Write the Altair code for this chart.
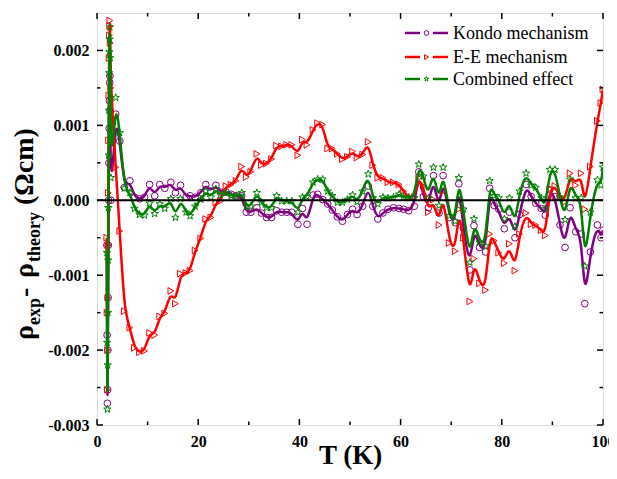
import altair as alt
import pandas as pd

# ---------------- data (resistivity residuals in units of 1e-3 Ohm cm) ----------------
T = [1.95, 2.0, 2.05, 2.1, 2.15, 2.2, 2.25, 2.3, 2.35, 2.4, 2.45, 2.5, 2.55, 2.6, 2.75,
     3.7, 4.5, 5.4, 6.5, 7.4, 8.4, 9.4, 10.4, 11.4, 12.4, 13.4, 14.6, 15.5, 16.5, 17.6, 18.4, 19.4,
     20.5, 21.5, 22.5, 23.5, 24.4, 25.5, 26.5, 27.5, 28.6, 29.5, 30.4, 31.6, 32.5, 33.5, 34.5, 35.5, 36.5, 37.5, 38.5, 39.7,
     40.6, 41.5, 42.7, 43.6, 44.6, 45.6, 46.5, 47.5, 48.5, 49.5, 50.5, 51.4, 52.5, 53.6, 54.5, 55.5, 56.5, 57.5, 58.6, 59.7,
     60.6, 61.6, 62.7, 63.6, 64.5, 65.5, 66.5, 67.6, 68.4, 69.6, 70.8, 71.5, 72.4, 73.7, 74.5, 75.6, 76.8, 77.6, 78.5, 79.4,
     80.5, 81.5, 82.6, 83.5, 84.8, 85.8, 86.7, 87.8, 88.6, 89.5, 90.5, 91.5, 92.5, 93.5, 94.6, 95.7, 96.4, 97.5, 98.9, 99.6, 100.0]

kondo = [-0.6, -1.8, -2.71, -2.53, -2.0, -1.3, -0.6, 0.0, 0.5, 0.96, 1.33, 1.57, 1.66, 1.2, 0.0,
         1.15, 0.79, 0.17, 0.26, 0.04, 0.02, 0.04, 0.21, 0.06, 0.21, 0.16, 0.24, 0.10, 0.20, 0.04, 0.06, 0.04,
         0.10, 0.21, 0.12, 0.20, 0.11, 0.11, 0.08, 0.06, 0.06, -0.16, -0.16, -0.10, -0.17, -0.23, -0.23, -0.14, -0.16, -0.16, -0.16, -0.32,
         -0.11, -0.32, 0.07, 0.08, 0.01, -0.05, -0.13, -0.22, -0.28, -0.19, -0.12, -0.19, -0.08, 0.19, -0.08, -0.25, -0.17, -0.12, -0.10, -0.11,
         -0.12, -0.14, -0.08, 0.38, 0.05, -0.10, 0.33, -0.17, 0.33, -0.23, -0.30, 0.22, -0.37, -0.93, -0.34, -0.63, -0.69, 0.16, -0.07, -0.12,
         -0.38, -0.16, -0.50, -0.19, 0.21, 0.05, -0.04, -0.11, -0.20, 0.14, 0.05, -0.33, -0.63, -0.10, -0.42, -0.45, -1.38, -0.69, -0.33, -0.50, -0.40]

ee = [-0.5, -1.5, -2.53, -2.0, -1.3, -0.6, 0.1, 0.8, 1.4, 1.9, 2.2, 2.33, 2.40, 2.1, 1.5,
      0.44, -0.41, -1.48, -1.70, -1.97, -2.03, -2.01, -1.77, -1.80, -1.55, -1.51, -1.21, -1.38, -0.98, -0.97, -0.94, -0.67,
      -0.51, -0.25, -0.23, -0.03, -0.01, 0.19, 0.21, 0.26, 0.45, 0.31, 0.38, 0.62, 0.47, 0.49, 0.55, 0.73, 0.72, 0.74, 0.74, 0.60,
      0.81, 0.74, 0.94, 1.03, 1.01, 0.69, 0.69, 0.62, 0.55, 0.58, 0.65, 0.57, 0.61, 0.78, 0.47, 0.30, 0.30, 0.24, 0.24, 0.21,
      0.12, 0.04, 0.04, 0.30, 0.19, -0.16, 0.01, -0.33, 0.12, -0.57, -0.68, -0.12, -0.50, -1.35, -0.78, -1.11, -1.20, -0.45, -0.54, -0.70,
      -0.84, -0.58, -0.94, -0.45, -0.17, -0.32, -0.33, -0.40, -0.47, 0.15, 0.19, 0.05, -0.02, 0.36, 0.20, 0.36, -0.12, 0.45, 1.06, 1.30, 1.48]

combined = [-0.7, -1.9, -2.79, -2.2, -1.5, -0.8, -0.1, 0.6, 1.2, 1.7, 1.98, 2.15, 2.31, 1.9, 0.3,
            1.37, 0.90, 0.16, 0.10, -0.11, -0.19, -0.20, -0.04, -0.18, -0.05, -0.11, 0.02, -0.23, 0.02, -0.16, -0.21, -0.08,
            0.01, 0.12, 0.04, 0.15, 0.07, 0.10, 0.06, 0.06, 0.10, -0.08, -0.08, 0.10, -0.03, -0.10, -0.10, 0.06, -0.01, -0.01, -0.01, -0.16,
            0.04, 0.05, 0.24, 0.28, 0.28, 0.12, 0.06, -0.03, -0.03, 0.01, 0.07, -0.02, 0.12, 0.35, 0.03, -0.05, 0.04, 0.03, 0.04, 0.08,
            0.04, 0.04, 0.03, 0.48, 0.32, 0.03, 0.44, -0.07, 0.44, -0.21, -0.28, 0.30, -0.12, -0.83, -0.25, -0.56, -0.61, 0.26, 0.06, 0.03,
            -0.25, 0.03, -0.35, 0.12, 0.36, 0.20, 0.17, 0.03, -0.11, 0.41, 0.41, 0.04, -0.26, 0.28, 0.03, 0.03, -0.88, -0.16, 0.27, 0.20, 0.44]

SERIES = ["Kondo mechanism", "E-E mechanism", "Combined effect"]
COLORS = ["#800080", "#ff0000", "#008000"]
STAR = ("M0,-1L0.235,-0.324L0.951,-0.309L0.38,0.124L0.588,0.809L0,0.4"
        "L-0.588,0.809L-0.38,0.124L-0.951,-0.309L-0.235,-0.324Z")
SHAPES = ["circle", "triangle-right", STAR]
SIZES = [45, 45, 60]

X_MAJOR = [0, 20, 40, 60, 80, 100]
X_MINOR = [10, 30, 50, 70, 90]
Y_MAJOR = [-0.003, -0.002, -0.001, 0.0, 0.001, 0.002]
Y_MINOR = [-0.0025, -0.0015, -0.0005, 0.0005, 0.0015]

Y_TITLE = [("ρ", -64, 327, 28), ("exp", -57, 312, 18), ("-", -64, 284, 28),
           ("ρ", -64, 265, 28), ("theory", -57, 249, 18), ("(Ωcm)", -64, 192, 28)]

W, H = 506, 412
FONT = "Liberation Serif, Times New Roman, DejaVu Serif, serif"

xs = alt.Scale(domain=[0, 100], nice=False, zero=False)
ys = alt.Scale(domain=[-0.003, 0.0025], nice=False, zero=False)

x_axis = alt.Axis(values=X_MAJOR, title="T (K)", domain=False, ticks=False, tickSize=0, grid=False,
                  labelFont=FONT, labelFontSize=16, labelFontWeight="bold", labelColor="black",
                  labelPadding=8, labelFlush=False,
                  titleFont=FONT, titleFontSize=27, titleFontWeight="bold", titleColor="black",
                  titlePadding=-7)
y_axis = alt.Axis(values=Y_MAJOR, title="", domain=False, ticks=False, tickSize=0, grid=False,
                  labelFont=FONT, labelFontSize=16, labelFontWeight="bold", labelColor="black",
                  labelPadding=8, labelFlush=False,
                  labelExpr="replace(format(datum.value, '.3f'), '\u2212', '-')")

XE = alt.X("T:Q", scale=xs, axis=x_axis, title="T (K)")
YE = alt.Y("v:Q", scale=ys, axis=y_axis, title="")

layers = []
for name, vals, color, shape, size in zip(SERIES, [kondo, ee, combined], COLORS, SHAPES, SIZES):
    df = pd.DataFrame({"T": T, "v": [v * 1e-3 for v in vals], "s": name})
    base = alt.Chart(df)
    layers.append(base.mark_line(color=color, strokeWidth=2.5, interpolate="basis", clip=True)
                  .encode(x=XE, y=YE))
    layers.append(base.mark_point(shape=shape, filled=False, color=color, size=size,
                                  strokeWidth=1, opacity=1, clip=True)
                  .encode(x=XE, y=YE))

# zero line
layers.append(alt.Chart(pd.DataFrame({"v": [0.0]})).mark_rule(color="black", strokeWidth=2)
              .encode(y=YE))

# inward ticks on all four sides
for vals, ln in [(X_MAJOR, 6), (X_MINOR, 3.5)]:
    d = alt.Chart(pd.DataFrame({"T": vals}))
    layers.append(d.mark_rule(color="black", strokeWidth=1.5).encode(
        x=XE, y=alt.value(H), y2=alt.value(H - ln)))
    layers.append(d.mark_rule(color="black", strokeWidth=1.5).encode(
        x=XE, y=alt.value(0), y2=alt.value(ln)))
for vals, ln in [(Y_MAJOR, 6), (Y_MINOR, 3.5)]:
    d = alt.Chart(pd.DataFrame({"v": vals}))
    layers.append(d.mark_rule(color="black", strokeWidth=1.5).encode(
        y=YE, x=alt.value(0), x2=alt.value(ln)))
    layers.append(d.mark_rule(color="black", strokeWidth=1.5).encode(
        y=YE, x=alt.value(W), x2=alt.value(W - ln)))

# y-axis title with subscripts
for txt, px, py, fs in Y_TITLE:
    layers.append(alt.Chart(pd.DataFrame({"t": [txt]})).mark_text(
        angle=270, align="left", baseline="alphabetic", font=FONT, fontSize=fs,
        fontWeight="bold", color="black").encode(x=alt.value(px), y=alt.value(py), text="t:N"))

# legend
LEG_Y = [20, 44, 66]
for name, color, shape, ly in zip(SERIES, COLORS, SHAPES, LEG_Y):
    one = alt.Chart(pd.DataFrame({"t": [name]}))
    layers.append(one.mark_rule(color=color, strokeWidth=2.5).encode(
        x=alt.value(308), x2=alt.value(323), y=alt.value(ly)))
    layers.append(one.mark_rule(color=color, strokeWidth=2.5).encode(
        x=alt.value(336), x2=alt.value(351), y=alt.value(ly)))
    layers.append(one.mark_point(shape=shape, filled=False, color=color, size=22, strokeWidth=1,
                                 opacity=1).encode(x=alt.value(329.5), y=alt.value(ly)))
    layers.append(one.mark_text(align="left", baseline="middle", font=FONT, fontSize=18,
                                color="black").encode(x=alt.value(356), y=alt.value(ly + 1), text="t:N"))

chart = (alt.layer(*layers)
         .properties(width=W, height=H, autosize=alt.AutoSizeParams(type="none"),
                     padding={"left": 89, "top": 5, "right": 6, "bottom": 46})
         .configure_view(stroke="black", strokeWidth=2)
         .configure(background="white"))

chart.save("out.html", embed_options={"renderer": "svg", "actions": False})
